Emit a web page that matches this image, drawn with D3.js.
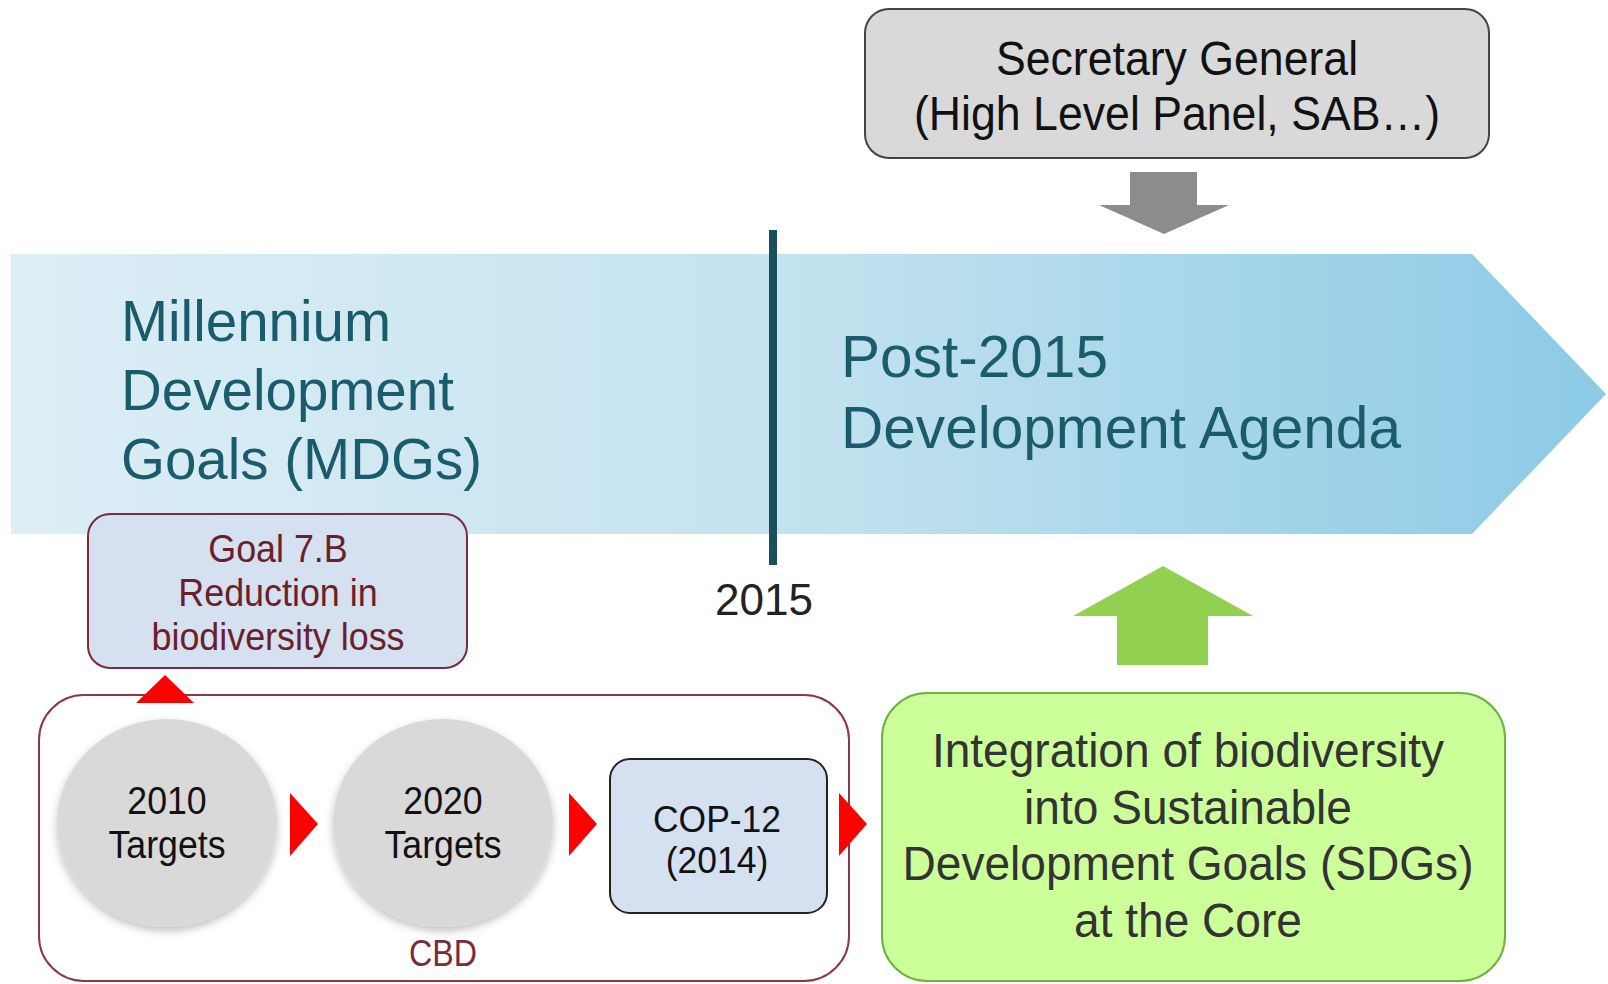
<!DOCTYPE html>
<html>
<head>
<meta charset="utf-8">
<script src="https://cdn.jsdelivr.net/npm/d3@7"></script>
<style>
  body { margin: 0; background: #fff; }
  text { font-family: "Liberation Sans", Arial, sans-serif; }
</style>
</head>
<body>
<svg id="chart"></svg>
<script>
// labels
var sgLines = ["Secretary General", "(High Level Panel, SAB\u2026)"];
var mdgLines = ["Millennium", "Development", "Goals (MDGs)"];
var postLines = ["Post-2015", "Development Agenda"];
var yearLabel = ["2015"];
var goalLines = ["Goal 7.B", "Reduction in", "biodiversity loss"];
var cbdTargets = [["2010", "Targets"], ["2020", "Targets"]];
var copLines = ["COP-12", "(2014)"];
var cbdLabel = ["CBD"];
var sdgLines = ["Integration of biodiversity", "into Sustainable", "Development Goals (SDGs)", "at the Core"];

var W = 1608, H = 984;
var svg = d3.select('#chart').attr('width', W).attr('height', H);
var defs = svg.append('defs');

var grad = defs.append('linearGradient').attr('id', 'band')
    .attr('x1', '0%').attr('x2', '100%');
grad.append('stop').attr('offset', '0%').attr('stop-color', '#ddeef6');
grad.append('stop').attr('offset', '50%').attr('stop-color', '#c3e2ef');
grad.append('stop').attr('offset', '100%').attr('stop-color', '#8ccae5');

var shadow = defs.append('filter').attr('id', 'shadow')
    .attr('x', '-20%').attr('y', '-20%').attr('width', '140%').attr('height', '140%');
shadow.append('feDropShadow').attr('dx', 0).attr('dy', 4).attr('stdDeviation', 4)
    .attr('flood-color', '#000').attr('flood-opacity', 0.25);

var line = d3.line();

// draw a block of centred / left text lines and squeeze it to a target width
function textBlock(lines, x, y0, dy, size, color, anchor, width) {
  var g = svg.append('g');
  var t = g.selectAll('text')
    .data(lines)
    .enter()
    .append('text')
    .attr('x', x)
    .attr('y', function(d, i) { return y0 + i * dy; })
    .attr('text-anchor', anchor)
    .attr('font-size', size)
    .attr('fill', color)
    .text(function(d) { return d; });
  var lens = t.nodes().map(function(n) { return n.getComputedTextLength(); });
  var k = width / d3.max(lens);
  t.attr('textLength', function(d, i) { return lens[i] * k; })
   .attr('lengthAdjust', 'spacingAndGlyphs');
  return g;
}

// big timeline band
svg.append('path')
  .attr('d', line([[11, 254], [1472, 254], [1606, 394], [1472, 534], [11, 534]]) + 'Z')
  .attr('fill', 'url(#band)');

// 2015 divider
svg.append('rect').attr('x', 769).attr('y', 230).attr('width', 8).attr('height', 335)
  .attr('fill', '#1b4f5b');
textBlock(yearLabel, 764, 615, 0, 44, '#222', 'middle', 98);

textBlock(mdgLines, 121, 341, 69, 58, '#1b5c6c', 'start', 361);
textBlock(postLines, 841, 377, 71, 59, '#1b5c6c', 'start', 560);

// Secretary General box
svg.append('rect').attr('x', 865).attr('y', 9).attr('width', 624).attr('height', 149)
  .attr('rx', 24).attr('fill', '#d9d9d9').attr('stroke', '#444').attr('stroke-width', 2);
textBlock(sgLines, 1177, 75, 55, 48, '#111', 'middle', 526);

// gray arrow down
svg.append('path')
  .attr('d', line([[1130, 172], [1197, 172], [1197, 205], [1229, 205], [1164, 234],
                   [1099, 205], [1130, 205]]) + 'Z')
  .attr('fill', '#8c8c8c');

// Goal 7.B box
svg.append('rect').attr('x', 88).attr('y', 514).attr('width', 379).attr('height', 154)
  .attr('rx', 22).attr('fill', '#d5e0f0').attr('stroke', '#7b2b3b').attr('stroke-width', 2);
textBlock(goalLines, 278, 562, 44, 38, '#6b1f2a', 'middle', 253);

// CBD container
svg.append('rect').attr('x', 39).attr('y', 695).attr('width', 810).attr('height', 286)
  .attr('rx', 45).attr('fill', '#fff').attr('stroke', '#8b3a45').attr('stroke-width', 2);

// red triangle up
svg.append('path').attr('d', line([[136, 703], [194, 703], [165, 675]]) + 'Z')
  .attr('fill', '#ff0000');

// target ellipses
var cx = d3.scalePoint().domain([0, 1]).range([167, 443]);
svg.selectAll('.target')
  .data(cbdTargets)
  .enter()
  .append('ellipse')
  .attr('class', 'target')
  .attr('cx', function(d, i) { return cx(i); })
  .attr('cy', 823).attr('rx', 110).attr('ry', 104)
  .attr('fill', '#d9d9d9').attr('filter', 'url(#shadow)');
cbdTargets.forEach(function(d, i) {
  textBlock(d, cx(i), 814, 44, 38, '#111', 'middle', 117);
});

// red arrows right
[290, 569, 839].forEach(function(x) {
  svg.append('path').attr('d', line([[x, 793], [x + 28, 824], [x, 856]]) + 'Z')
    .attr('fill', '#ff0000');
});

// COP-12 box
svg.append('rect').attr('x', 610).attr('y', 759).attr('width', 217).attr('height', 154)
  .attr('rx', 20).attr('fill', '#d5e0f0').attr('stroke', '#222').attr('stroke-width', 2);
textBlock(copLines, 717, 832, 41, 36, '#111', 'middle', 128);

textBlock(cbdLabel, 443, 966, 0, 36, '#7b2b3b', 'middle', 68);

// green arrow up
svg.append('path')
  .attr('d', line([[1117, 665], [1117, 616], [1073, 616], [1163, 566], [1253, 616],
                   [1208, 616], [1208, 665]]) + 'Z')
  .attr('fill', '#92d050');

// SDG box
svg.append('rect').attr('x', 882).attr('y', 693).attr('width', 623).attr('height', 288)
  .attr('rx', 45).attr('fill', '#ccff99').attr('stroke', '#6cb33e').attr('stroke-width', 2);
textBlock(sdgLines, 1188, 767, 56.5, 48, '#333', 'middle', 571);
</script>
</body>
</html>
